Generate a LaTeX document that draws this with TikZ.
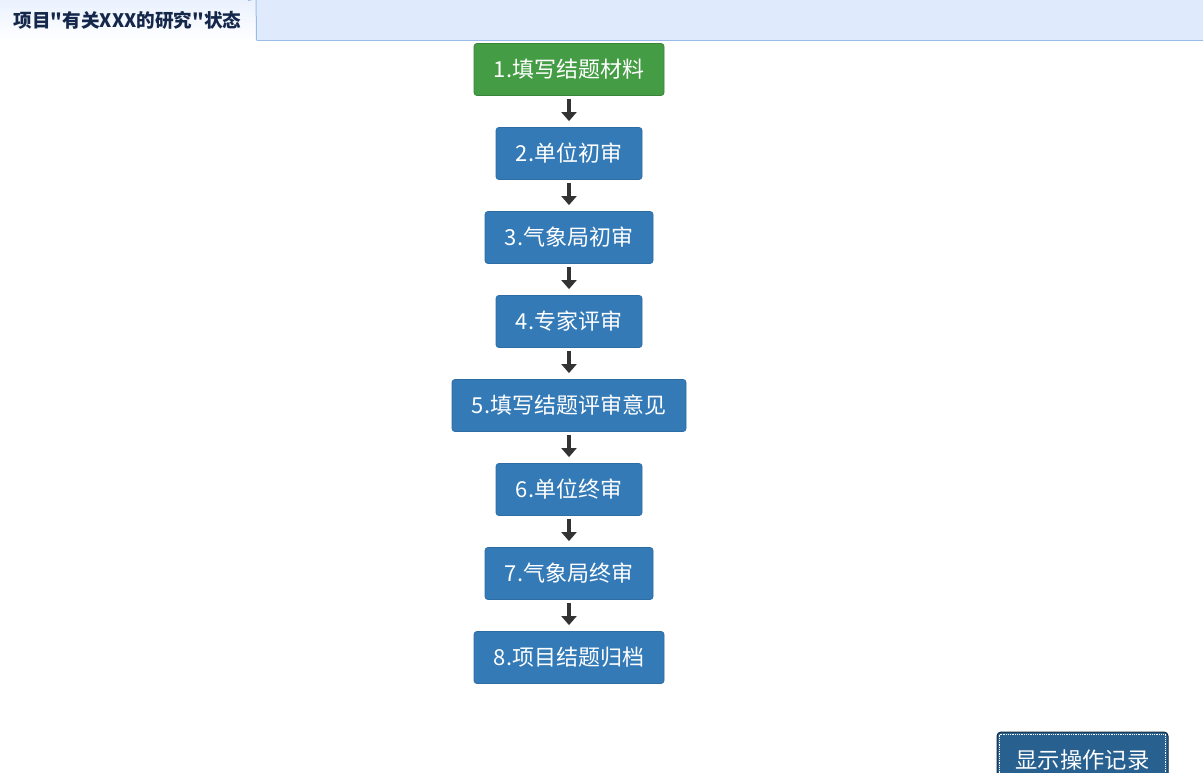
\documentclass[tikz,border=0pt]{standalone}
\usepackage{fontspec}
\setmainfont{Noto Sans CJK SC}[Ligatures=TeXOff]
\usetikzlibrary{arrows.meta}
\definecolor{barbg}{HTML}{DFEBFD}
\definecolor{barline}{HTML}{99BBE8}
\definecolor{tabtop}{HTML}{E6EFFD}
\definecolor{tabtxt}{HTML}{15284B}
\definecolor{okgreen}{HTML}{449D44}
\definecolor{okgreenb}{HTML}{398439}
\definecolor{bsblue}{HTML}{337AB7}
\definecolor{bsblueb}{HTML}{2E6DA4}
\definecolor{btnblue}{HTML}{286090}
\definecolor{btnborder}{HTML}{122B40}
\definecolor{arrowc}{HTML}{333333}
\tikzset{
  stepbox/.style={draw=bsblueb, fill=bsblue, rounded corners=3pt, line width=0.8pt,
    text=white, font=\fontsize{22}{26}\selectfont, minimum height=52pt, inner sep=0pt, anchor=center},
  donebox/.style={stepbox, draw=okgreenb, fill=okgreen},
  flowarrow/.style={draw=arrowc, line width=4.5pt, -{Triangle[width=15pt,length=9pt]}}
}
\begin{document}
\begin{tikzpicture}[x=1pt,y=-1pt]
\useasboundingbox (0,0) rectangle (1203,773);
\clip (0,0) rectangle (1203,773);
\fill[white] (0,0) rectangle (1203,773);
% tab bar
\fill[barbg] (0,0) rectangle (1203,40);
\draw[barline, line width=1pt] (0,40.5) -- (1203,40.5);
\shade[top color=tabtop, bottom color=white] (0,0) -- (249,0) arc[start angle=90,end angle=0,radius=8] -- (257,41) -- (0,41) -- cycle;
\draw[barline, line width=1pt] (248,0.5) arc[start angle=90,end angle=0,radius=8] -- (256.5,40.5);
\node[text=tabtxt, font=\bfseries\fontsize{18.6}{22}\selectfont] (tab) at (127.5,20) {项目"有关XXX的研究"状态};
% steps
\node[donebox, minimum width=190pt] (s1) at (569,69.5) {1.填写结题材料};
\node[stepbox, minimum width=146pt] (s2) at (569,153.5) {2.单位初审};
\node[stepbox, minimum width=168pt] (s3) at (569,237.5) {3.气象局初审};
\node[stepbox, minimum width=146pt] (s4) at (569,321.5) {4.专家评审};
\node[stepbox, minimum width=234pt] (s5) at (569,405.5) {5.填写结题评审意见};
\node[stepbox, minimum width=146pt] (s6) at (569,489.5) {6.单位终审};
\node[stepbox, minimum width=168pt] (s7) at (569,573.5) {7.气象局终审};
\node[stepbox, minimum width=190pt] (s8) at (569,657.5) {8.项目结题归档};
\foreach \a/\b in {s1/s2,s2/s3,s3/s4,s4/s5,s5/s6,s6/s7,s7/s8}{
  \draw[flowarrow] ([yshift=-3pt]\a.south) -- ([yshift=6pt]\b.north);
}
% button
\node[draw=btnborder, fill=btnblue, rounded corners=4pt, line width=1pt, text=white,
  font=\fontsize{22.3}{26}\selectfont, minimum width=171pt, minimum height=56pt, inner sep=0pt] (btn) at (1082.5,760) {显示操作记录};
\draw[white, densely dotted, line width=0.8pt] ([xshift=3pt,yshift=-3pt]btn.north west) rectangle ([xshift=-3pt,yshift=3pt]btn.south east);
\end{tikzpicture}
\end{document}
